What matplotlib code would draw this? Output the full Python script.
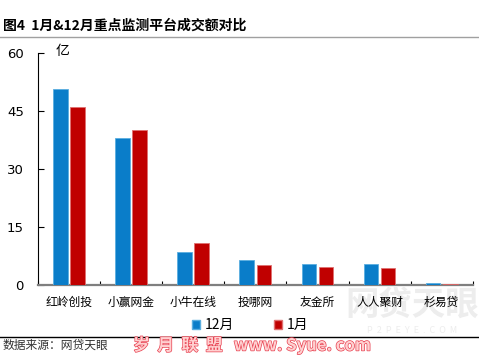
import numpy as np
import matplotlib.pyplot as plt
from matplotlib.patches import Patch
from matplotlib.lines import Line2D
import matplotlib.patheffects as pe

plt.rcParams['font.family'] = ['Noto Sans CJK SC', 'DejaVu Sans']

platforms = ['红岭创投', '小赢网金', '小牛在线', '投哪网', '友金所', '人人聚财', '杉易贷']
dec_vals = [50.8, 38.1, 8.6, 6.4, 5.4, 5.4, 0.45]
jan_vals = [46.2, 40.2, 10.9, 5.1, 4.8, 4.5, 0.4]
yticks = [0, 15, 30, 45, 60]

blue = '#0A7DC9'
red = '#C00000'

fig = plt.figure(figsize=(4.79, 3.56), dpi=100)
ax = fig.add_axes([0.079, 0.199, 0.908, 0.651])
ax.patch.set_alpha(0)

x = np.arange(len(platforms))
w = 0.235
ax.bar(x - 0.138, dec_vals, w, color=blue, edgecolor='#5aaee0', linewidth=0.6, zorder=3)
ax.bar(x + 0.138, jan_vals, w, color=red, edgecolor='#e07070', linewidth=0.6, zorder=3)

ax.set_xlim(-0.5, len(platforms) - 0.5)
ax.set_ylim(0, 60)
ax.set_yticks(yticks)
ax.set_yticklabels([str(v) for v in yticks], fontsize=9.5, family='DejaVu Sans')
ax.tick_params(axis='y', direction='in', length=4, width=0.8, pad=10)
ax.set_xticks(np.arange(len(platforms) + 1) - 0.5, minor=True)
ax.set_xticks(x)
ax.set_xticklabels(platforms, fontsize=8.5)
ax.tick_params(axis='x', which='major', length=0, pad=8)
ax.tick_params(axis='x', which='minor', direction='in', length=3, width=0.8)

for s in ['top', 'right']:
    ax.spines[s].set_visible(False)
ax.spines['left'].set_color('black')
ax.spines['left'].set_linewidth(0.8)
ax.spines['bottom'].set_color('#7f7f7f')
ax.spines['bottom'].set_linewidth(1.6)

ax.text(0.04, 1.01, '亿', transform=ax.transAxes, fontsize=10, va='center', ha='left')

# title and rules
fig.text(0.006, 0.928, '图4  1月&12月重点监测平台成交额对比', fontsize=10,
         fontweight='bold', va='center', ha='left')
fig.add_artist(Line2D([0, 1], [0.896, 0.896], color='#a0a0a0', lw=1.0))
fig.add_artist(Line2D([0, 1], [0.053, 0.053], color='black', lw=1.0))

# watermark behind the plot
fig.text(0.86, 0.143, '网贷天眼', fontsize=24, fontweight='bold', color='#ededed',
         ha='center', va='center', zorder=-5)
fig.text(0.86, 0.073, 'P  2  P  E  Y  E  .  C  O  M', fontsize=6.5, color='#ededed',
         ha='center', va='center', zorder=-5)

handles = [Patch(facecolor=blue, edgecolor='#5aaee0', label='12月'),
           Patch(facecolor=red, edgecolor='#e07070', label='1月')]
fig.legend(handles=handles, loc='center', bbox_to_anchor=(0.522, 0.087), ncol=2,
           frameon=False, fontsize=10, handlelength=0.6, handleheight=0.6,
           handletextpad=0.3, columnspacing=2.9)

fig.text(0.006, 0.03, '数据来源：网贷天眼', fontsize=8.5, color='#333333',
         va='center', ha='left')
fig.text(0.278, 0.03, '岁  月  联  盟   www. Syue. com', fontsize=12, fontweight='bold',
         color='#ffd0d0', va='center', ha='left',
         path_effects=[pe.withStroke(linewidth=1.0, foreground='#e84050')])

fig.savefig('out.png', dpi=100)
